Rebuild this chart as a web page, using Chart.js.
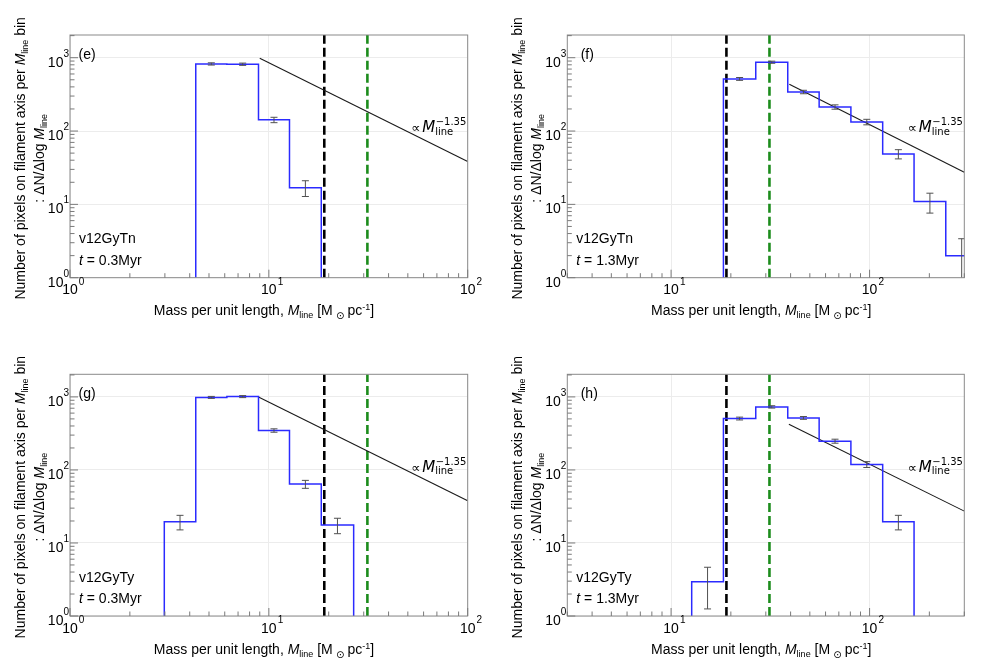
<!DOCTYPE html>
<html>
<head>
<meta charset="utf-8">
<script src="https://cdn.jsdelivr.net/npm/chart.js@4.4.1/dist/chart.umd.min.js"></script>
<style>
  body { margin: 0; background: #fff; }
  #wrap { position: relative; width: 984px; height: 668px; }
  #wrap canvas { position: absolute; }
</style>
</head>
<body>
<div id="wrap">
  <canvas id="panelE" width="492" height="334" style="left:0;top:0"></canvas>
  <canvas id="panelF" width="492" height="334" style="left:492px;top:0"></canvas>
  <canvas id="panelG" width="492" height="334" style="left:0;top:334px"></canvas>
  <canvas id="panelH" width="492" height="334" style="left:492px;top:334px"></canvas>
</div>
<script>
// Bin edges of the M_line histogram [Msun/pc]
const binEdges = [2.98, 4.29, 6.15, 8.87, 12.7, 18.35, 26.7, 38.7, 55.7, 80.5, 116.4, 167.5, 242, 350];

// dN/dlog M_line per bin (0 = empty bin) and their error bars
const countsE = [0, 823, 815, 142, 16.9, 0, 0, 0, 0, 0, 0, 0, 0];
const errorsE = [0, 29, 29, 12, 4.1, 0, 0, 0, 0, 0, 0, 0, 0];
const countsF = [0, 0, 0, 0, 0, 514, 868, 341, 213, 133, 48.7, 10.9, 2.0];
const errorsF = [0, 0, 0, 0, 0, 23, 29, 18.5, 14.6, 11.5, 7.0, 3.3, 1.4];
const countsG = [19.5, 985, 1010, 347, 64, 17.6, 0, 0, 0, 0, 0, 0, 0];
const errorsG = [4.4, 31, 32, 18.6, 8.0, 4.2, 0, 0, 0, 0, 0, 0, 0];
const countsH = [0, 0, 0, 0, 2.95, 506, 730, 516, 248, 119, 19.5, 0, 0];
const errorsH = [0, 0, 0, 0, 1.7, 22.5, 27, 22.7, 15.7, 10.9, 4.4, 0, 0];

// power law guide  ∝ M_line^-1.35 (end points)
const lawXE = [9.0, 100], lawYE = [985, 38.4];
const lawXF = [39.4, 300], lawYF = [435, 27.4];
const lawXG = [8.87, 100], lawYG = [1000, 37.8];
const lawXH = [39.2, 300], lawYH = [423, 27.3];

// critical line masses (dashed lines)
const critBlack = 19.0;
const critGreen = 31.3;

// axis limits
const yRange = [1, 2040];
const xRangeEarly = [1, 100];
const xRangeLate = [3, 300];

const SANS = '"Liberation Sans", Arial, sans-serif';
const MATH = '"DejaVu Sans", sans-serif';

function decadesIn(min, max) {
    const out = [];
    for (let d = Math.floor(Math.log10(min)); d <= Math.ceil(Math.log10(max)); d++) {
        const v = Math.pow(10, d);
        if (v >= min * 0.999 && v <= max * 1.001) out.push(v);
    }
    return out;
}

// step outline of a histogram, closed down to the axis floor
function histPoints(counts) {
    const used = counts.map((c, i) => c > 0 ? i : -1).filter(i => i >= 0);
    const first = used[0], last = used[used.length - 1];
    const pts = [{ x: binEdges[first], y: yRange[0] }];
    for (let i = first; i <= last; i++) pts.push({ x: binEdges[i], y: counts[i] });
    pts.push({ x: binEdges[last + 1], y: counts[last] });
    pts.push({ x: binEdges[last + 1], y: yRange[0] });
    return pts;
}

// draw text made of pieces [text, font, dy]
function richText(ctx, parts, x, y, align) {
    let w = 0;
    parts.forEach(p => { ctx.font = p[1]; w += ctx.measureText(p[0]).width; });
    let cx = align === 'center' ? x - w / 2 : (align === 'right' ? x - w : x);
    parts.forEach(p => {
        ctx.font = p[1];
        ctx.fillText(p[0], cx, y + (p[2] || 0));
        cx += ctx.measureText(p[0]).width;
    });
}

const decorPlugin = {
    id: 'decor',
    afterDraw(chart) {
        const ctx = chart.ctx;
        const a = chart.chartArea;
        const xs = chart.scales.x, ys = chart.scales.y;
        const o = chart.options.plugins.decor;

        ctx.save();
        // error bars
        ctx.save();
        ctx.beginPath();
        ctx.rect(a.left, a.top, a.right - a.left, a.bottom - a.top);
        ctx.clip();
        ctx.strokeStyle = '#505050';
        ctx.lineWidth = 1;
        o.counts.forEach((c, i) => {
            if (!(c > 0)) return;
            const px = xs.getPixelForValue(Math.sqrt(binEdges[i] * binEdges[i + 1]));
            const lo = Math.max(c - o.errors[i], 0.01);
            const y1 = ys.getPixelForValue(c + o.errors[i]);
            const y2 = ys.getPixelForValue(lo);
            ctx.beginPath();
            ctx.moveTo(px, y1); ctx.lineTo(px, y2);
            ctx.moveTo(px - 3.5, y1); ctx.lineTo(px + 3.5, y1);
            ctx.moveTo(px - 3.5, y2); ctx.lineTo(px + 3.5, y2);
            ctx.stroke();
        });
        ctx.restore();

        // frame
        ctx.strokeStyle = '#8a8a8a';
        ctx.lineWidth = 1;
        ctx.strokeRect(a.left, a.top, a.right - a.left, a.bottom - a.top);

        // inward ticks
        ctx.strokeStyle = '#7a7a7a';
        ctx.beginPath();
        [[xs, true], [ys, false]].forEach(([s, isX]) => {
            for (let d = Math.floor(Math.log10(s.min)); d <= Math.ceil(Math.log10(s.max)); d++) {
                for (let k = 1; k <= 9; k++) {
                    const v = k * Math.pow(10, d);
                    if (v < s.min * 0.999 || v > s.max * 1.001) continue;
                    const len = k === 1 ? 8 : 4.5;
                    const p = s.getPixelForValue(v);
                    if (isX) { ctx.moveTo(p, a.bottom); ctx.lineTo(p, a.bottom - len); }
                    else { ctx.moveTo(a.left, p); ctx.lineTo(a.left + len, p); }
                }
            }
        });
        ctx.stroke();

        // tick labels 10^n
        ctx.fillStyle = '#000';
        ctx.textBaseline = 'alphabetic';
        decadesIn(ys.min, ys.max).forEach(v => {
            const p = ys.getPixelForValue(v);
            const e = String(Math.round(Math.log10(v)));
            richText(ctx, [['10', '14px ' + SANS], [e, '10px ' + SANS, -10]], a.left - 1, p + 9, 'right');
        });
        decadesIn(xs.min, xs.max).forEach(v => {
            const p = xs.getPixelForValue(v);
            const e = String(Math.round(Math.log10(v)));
            ctx.font = '14px ' + SANS;
            const w = ctx.measureText('10').width;
            ctx.fillText('10', p - w / 2, a.bottom + 16.5);
            ctx.font = '10px ' + SANS;
            ctx.fillText(e, p + w / 2 + 1, a.bottom + 7);
        });

        // axis titles
        const F14 = '14px ' + SANS, F14i = 'italic 14px ' + SANS;
        const SUB = '9px ' + SANS;
        richText(ctx, [
            ['Mass per unit length, ', F14], ['M', F14i], ['line', SUB, 3],
            [' [M', F14], [' \u2299 ', '10px ' + MATH, 4], ['pc', F14], ['-1', SUB, -5], [']', F14]
        ], a.left + 194, a.bottom + 37.5, 'center');

        const yc = (a.top + a.bottom) / 2 + 2;
        ctx.save();
        ctx.translate(a.left - 50 + 5, yc);
        ctx.rotate(-Math.PI / 2);
        richText(ctx, [
            ['Number of pixels on filament axis per ', F14], ['M', F14i], ['line', SUB, 3], [' bin', F14]
        ], 0, 0, 'center');
        ctx.restore();
        ctx.save();
        ctx.translate(a.left - 31 + 5, yc);
        ctx.rotate(-Math.PI / 2);
        richText(ctx, [
            [': \u0394N/\u0394log ', F14], ['M', F14i], ['line', SUB, 3]
        ], 0, 0, 'center');
        ctx.restore();

        // panel annotations
        ctx.font = F14;
        ctx.fillText(o.tag, a.left + o.tagDx, ys.getPixelForValue(1000) + 1.5);
        ctx.fillText(o.run, a.left + 9, a.bottom - 34.5);
        richText(ctx, [['t', F14i], [' = ' + o.time, F14]], a.left + 9, a.bottom - 12.7, 'left');

        const lx = a.right - 56.5, ly = a.top + 97.3;
        ctx.font = '13px ' + MATH;
        ctx.fillText('\u221D', lx, ly);
        ctx.font = 'oblique 15px ' + MATH;
        ctx.fillText('M', lx + 11, ly);
        ctx.font = '10px ' + MATH;
        ctx.fillText('line', lx + 24, ly + 2.6);
        ctx.fillText('\u22121.35', lx + 24.5, ly - 7);
        ctx.restore();
    }
};

function buildPanel(id, p) {
    const ctx = document.getElementById(id);
    const lawData = p.lawX.map((x, i) => ({ x: x, y: p.lawY[i] }));
    new Chart(ctx, {
        type: 'line',
        data: {
            datasets: [
                {
                    data: histPoints(p.counts),
                    stepped: 'before',
                    borderColor: '#2b2bff',
                    borderWidth: 1.5,
                    pointRadius: 0,
                    order: 0
                },
                {
                    data: lawData,
                    borderColor: '#1a1a1a',
                    borderWidth: 1.1,
                    pointRadius: 0,
                    order: 1
                },
                {
                    data: [{ x: critBlack, y: yRange[0] }, { x: critBlack, y: yRange[1] }],
                    borderColor: '#000000',
                    borderWidth: 2.6,
                    borderDash: [9, 4],
                    pointRadius: 0,
                    order: 2
                },
                {
                    data: [{ x: critGreen, y: yRange[0] }, { x: critGreen, y: yRange[1] }],
                    borderColor: '#1c8c1c',
                    borderWidth: 2.6,
                    borderDash: [9, 4],
                    pointRadius: 0,
                    order: 2
                }
            ]
        },
        options: {
            responsive: false,
            animation: false,
            devicePixelRatio: 1,
            layout: { padding: { left: 0, top: p.top, right: p.right, bottom: 0 } },
            plugins: {
                legend: { display: false },
                tooltip: { enabled: false },
                decor: {
                    counts: p.counts, errors: p.errors,
                    tag: p.tag, tagDx: p.tagDx, run: p.run, time: p.time
                }
            },
            scales: {
                x: {
                    type: 'logarithmic',
                    min: p.xRange[0],
                    max: p.xRange[1],
                    border: { display: false },
                    ticks: { display: false },
                    grid: { color: '#ececec', drawTicks: false },
                    afterBuildTicks: s => { s.ticks = decadesIn(s.min, s.max).map(v => ({ value: v })); },
                    afterFit: s => { s.height = p.xAxisH; }
                },
                y: {
                    type: 'logarithmic',
                    min: yRange[0],
                    max: yRange[1],
                    border: { display: false },
                    ticks: { display: false },
                    grid: { color: '#ececec', drawTicks: false },
                    afterBuildTicks: s => { s.ticks = decadesIn(s.min, s.max).map(v => ({ value: v })); },
                    afterFit: s => { s.width = p.yAxisW; }
                }
            }
        },
        plugins: [decorPlugin]
    });
}

buildPanel('panelE', {
    counts: countsE, errors: errorsE, lawX: lawXE, lawY: lawYE, xRange: xRangeEarly,
    tag: '(e)', tagDx: 8.5, run: 'v12GyTn', time: '0.3Myr',
    top: 35, right: 24.3, xAxisH: 56.3, yAxisW: 70
});
buildPanel('panelF', {
    counts: countsF, errors: errorsF, lawX: lawXF, lawY: lawYF, xRange: xRangeLate,
    tag: '(f)', tagDx: 13.4, run: 'v12GyTn', time: '1.3Myr',
    top: 35, right: 19.7, xAxisH: 56.3, yAxisW: 75.3
});
buildPanel('panelG', {
    counts: countsG, errors: errorsG, lawX: lawXG, lawY: lawYG, xRange: xRangeEarly,
    tag: '(g)', tagDx: 8.5, run: 'v12GyTy', time: '0.3Myr',
    top: 40.3, right: 24.3, xAxisH: 52, yAxisW: 70
});
buildPanel('panelH', {
    counts: countsH, errors: errorsH, lawX: lawXH, lawY: lawYH, xRange: xRangeLate,
    tag: '(h)', tagDx: 13.4, run: 'v12GyTy', time: '1.3Myr',
    top: 40.3, right: 19.7, xAxisH: 52, yAxisW: 75.3
});
</script>
</body>
</html>
